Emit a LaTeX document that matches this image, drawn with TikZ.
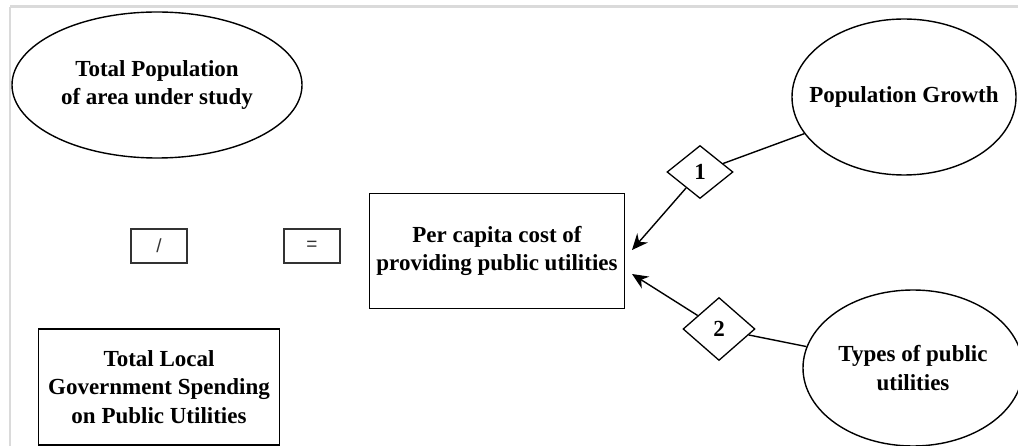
\documentclass[tikz,border=0pt]{standalone}
\usepackage{fontspec}
\setmainfont{Liberation Serif}
\newfontfamily\symfont{Liberation Sans}
\usetikzlibrary{shapes.geometric,arrows.meta}
\definecolor{framegray}{RGB}{218,218,218}
\tikzset{
  lbl/.style={font=\fontsize{23}{28.5}\selectfont\bfseries, align=center, text=black},
  oval/.style={draw, line width=1.4pt, ellipse, inner sep=0pt, lbl},
  box/.style={draw, line width=1.4pt, rectangle, inner sep=0pt, lbl},
  opbox/.style={draw, line width=1.6pt, draw=black!80, rectangle, inner sep=0pt, minimum width=56, minimum height=34, font=\symfont\fontsize{19}{21}\selectfont, text=black!80},
  dia/.style={draw, line width=1.3pt, diamond, inner sep=0pt, lbl},
  link/.style={line width=1.4pt},
  arr/.style={line width=1.4pt, -{Stealth[length=16pt,width=14pt]}}
}
\begin{document}
\begin{tikzpicture}[x=1pt,y=-1pt]
\useasboundingbox (0,0) rectangle (1018,446);
% frame
\draw[framegray, line width=3pt] (10,7) -- (1020,7);
\draw[framegray, line width=2pt] (10,7) -- (10,450);
% nodes
\node[oval, minimum width=290, minimum height=146] (tp) at (157,85) {Total Population\\of area under study};
\node[opbox] (sl) at (159,246) {/};
\node[opbox] (eq) at (312,246) {=};
\node[box, minimum width=255, minimum height=115] (pc) at (497,251) {Per capita cost of\\providing public utilities};
\node[box, minimum width=241, minimum height=116] (tl) at (159,387) {Total Local\\Government Spending\\on Public Utilities};
\node[oval, inner xsep=-25pt, minimum width=224, minimum height=156] (pg) at (904,97) {Population Growth};
\node[oval, minimum width=220, minimum height=156] (tu) at (913,368) {Types of public\\utilities};
\node[dia, minimum width=66, minimum height=53] (d1) at (700,172) {1};
\node[dia, minimum width=72, minimum height=63] (d2) at (719,329) {2};
\coordinate (t1) at (632,250);
\coordinate (t2) at (632,274);
% connectors
\draw[link] (pg) -- (d1);
\draw[arr] (d1) -- (t1);
\draw[link] (tu) -- (d2);
\draw[arr] (d2) -- (t2);
\end{tikzpicture}
\end{document}
